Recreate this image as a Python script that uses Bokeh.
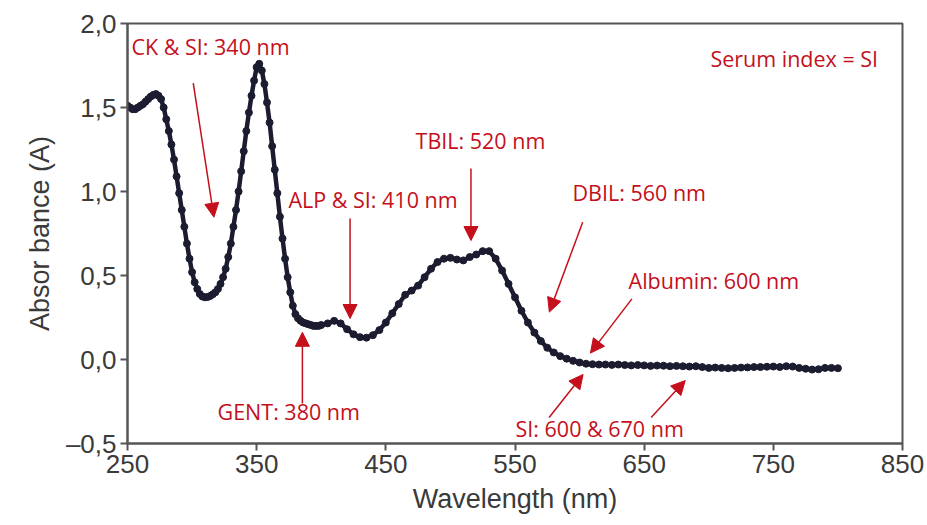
from bokeh.plotting import figure
from bokeh.models import Range1d, FixedTicker, Label, Arrow, NormalHead, CustomJSTickFormatter
from bokeh.embed import file_html
from bokeh.resources import INLINE

# ---- data ----
wavelength_a = [250, 252, 254, 256, 258, 260, 262, 264, 266, 268, 270, 272, 274, 276, 278,
                280, 282, 284, 286, 288, 290, 292, 294, 296, 298, 300, 302, 304, 306, 308,
                310, 312, 314, 316, 318, 320, 322, 324, 326, 328, 330, 332, 334, 336, 338,
                340, 342, 344, 346, 348, 350, 352, 354, 356, 358, 360, 362, 364, 366, 368,
                370, 372, 374, 376, 378, 380, 382, 384, 386, 388, 390, 392, 394, 396, 398, 400]
absorbance_a = [1.51, 1.50, 1.49, 1.49, 1.50, 1.51, 1.52, 1.535, 1.55, 1.565, 1.575, 1.58, 1.57, 1.55, 1.50,
                1.43, 1.36, 1.28, 1.19, 1.09, 0.99, 0.89, 0.79, 0.69, 0.60, 0.52, 0.46, 0.42, 0.39, 0.375,
                0.37, 0.372, 0.378, 0.388, 0.40, 0.42, 0.45, 0.49, 0.54, 0.61, 0.69, 0.79, 0.89, 1.00, 1.12,
                1.24, 1.36, 1.47, 1.57, 1.66, 1.74, 1.76, 1.72, 1.64, 1.53, 1.41, 1.27, 1.13, 0.99, 0.85,
                0.72, 0.60, 0.49, 0.40, 0.32, 0.27, 0.245, 0.23, 0.22, 0.215, 0.21, 0.205, 0.20, 0.20, 0.20, 0.205]

wavelength_b = [405, 410, 415, 420, 425, 430, 435, 440, 445, 450, 455, 460, 465, 470, 475,
                480, 485, 490, 495, 500, 505, 510, 515, 520, 525, 530, 535, 540, 545, 550,
                555, 560, 565, 570, 575, 580, 585, 590, 595, 600]
absorbance_b = [0.215, 0.23, 0.215, 0.18, 0.15, 0.133, 0.13, 0.145, 0.175, 0.22, 0.275, 0.33, 0.385, 0.41, 0.44,
                0.49, 0.54, 0.58, 0.60, 0.605, 0.595, 0.59, 0.61, 0.625, 0.645, 0.645, 0.60, 0.53, 0.45, 0.37,
                0.29, 0.22, 0.16, 0.11, 0.07, 0.042, 0.02, 0.005, -0.008, -0.018]

wavelength_c = [605, 610, 615, 620, 625, 630, 635, 640, 645, 650, 655, 660, 665, 670, 675,
                680, 685, 690, 695, 700, 705, 710, 715, 720, 725, 730, 735, 740, 745, 750,
                755, 760, 765, 770, 775, 780, 785, 790, 795, 800]
absorbance_c = [-0.025, -0.028, -0.03, -0.03, -0.032, -0.03, -0.033, -0.035, -0.033, -0.035, -0.038, -0.036, -0.037, -0.04, -0.038,
                -0.04, -0.042, -0.04, -0.045, -0.05, -0.048, -0.05, -0.052, -0.05, -0.048, -0.047, -0.045, -0.045, -0.043, -0.042,
                -0.045, -0.04, -0.042, -0.05, -0.055, -0.06, -0.058, -0.05, -0.05, -0.052]

x_ticks = [250, 350, 450, 550, 650, 750, 850]
y_ticks = [-0.5, 0.0, 0.5, 1.0, 1.5, 2.0]
y_tick_labels = ["\u20130,5", "0,0", "0,5", "1,0", "1,5", "2,0"]

# annotations: text, x, y (data units)
note_texts = ["CK & SI: 340 nm", "ALP & SI: 410 nm", "TBIL: 520 nm", "DBIL: 560 nm",
              "Albumin: 600 nm", "Serum index = SI", "GENT: 380 nm", "SI: 600 & 670 nm"]
note_x = [253.1, 374.6, 473.0, 594.5, 637.9, 701.3, 319.7, 550.4]
note_y = [1.863, 0.952, 1.304, 0.994, 0.470, 1.792, -0.310, -0.411]

# arrows: start -> end (data units)
arrow_x0 = [300.9, 422.3, 515.9, 602.4, 640.5, 385.4, 576.4, 655.4]
arrow_y0 = [1.645, 0.839, 1.137, 0.817, 0.361, -0.262, -0.345, -0.345]
arrow_x1 = [316.9, 422.3, 515.9, 576.6, 608.4, 385.4, 602.7, 681.8]
arrow_y1 = [0.847, 0.244, 0.708, 0.282, 0.038, 0.162, -0.089, -0.125]

wavelength = wavelength_a + wavelength_b + wavelength_c
absorbance = absorbance_a + absorbance_b + absorbance_c

RED = "#c4101c"
CURVE = "#1c1c30"
AX = "#555555"
TXT = "#3a3a3a"

p = figure(width=927, height=525, x_range=Range1d(250, 850), y_range=Range1d(-0.5, 2.0),
           output_backend="svg", toolbar_location=None,
           min_border_left=127, min_border_right=25, min_border_top=23, min_border_bottom=82)
p.grid.visible = False
p.outline_line_color = AX
p.outline_line_width = 2
p.background_fill_color = "white"
p.border_fill_color = "white"

for ax in (p.xaxis[0], p.yaxis[0]):
    ax.axis_line_color = AX
    ax.axis_line_width = 2
    ax.major_tick_line_color = AX
    ax.major_tick_line_width = 2
    ax.major_tick_out = 7
    ax.major_tick_in = 0
    ax.minor_tick_out = 0
    ax.minor_tick_in = 0
    ax.major_label_text_font = "Liberation Sans"
    ax.major_label_text_font_size = "26px"
    ax.major_label_text_color = TXT
    ax.axis_label_text_font = "Liberation Sans"
    ax.axis_label_text_font_size = "27px"
    ax.axis_label_text_font_style = "normal"
    ax.axis_label_text_color = TXT

p.xaxis.ticker = FixedTicker(ticks=x_ticks)
p.xaxis.major_label_standoff = 4
p.xaxis.axis_label = "Wavelength (nm)"
p.xaxis.axis_label_standoff = 8

p.yaxis.ticker = FixedTicker(ticks=y_ticks)
p.yaxis.formatter = CustomJSTickFormatter(args=dict(tvals=y_ticks, tlabels=y_tick_labels), code="""
    for (let i = 0; i < tvals.length; i++) { if (Math.abs(tvals[i] - tick) < 1e-9) return tlabels[i]; }
    return "";
""")
p.yaxis.major_label_standoff = 4
p.yaxis.axis_label = "Absor bance (A)"
p.yaxis.axis_label_standoff = 8

p.line(wavelength, absorbance, line_color=CURVE, line_width=4.5)
p.scatter(wavelength, absorbance, marker="circle", size=7, fill_color=CURVE, line_color=CURVE)

for t, x, y in zip(note_texts, note_x, note_y):
    p.add_layout(Label(x=x, y=y, text=t, text_font="Open Sans", text_font_size="21.5px",
                       text_color=RED, text_align="left", text_baseline="middle"))

for x0, y0, x1, y1 in zip(arrow_x0, arrow_y0, arrow_x1, arrow_y1):
    p.add_layout(Arrow(end=NormalHead(size=14, fill_color=RED, line_color=RED, line_width=1),
                       x_start=x0, y_start=y0, x_end=x1, y_end=y1,
                       line_color=RED, line_width=1.5))

open("out.html", "w").write(file_html(p, INLINE))
